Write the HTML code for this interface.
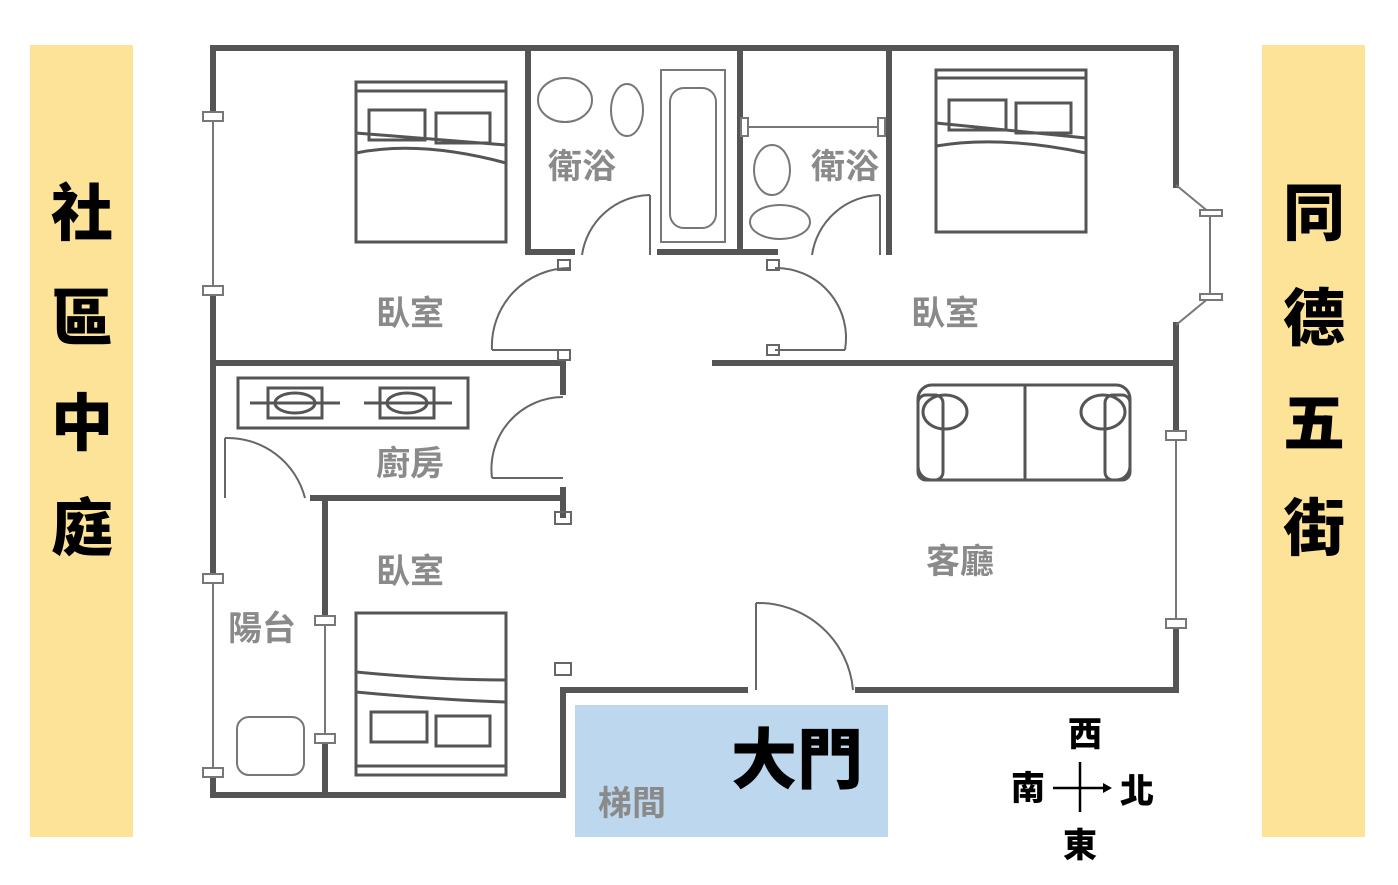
<!DOCTYPE html>
<html><head><meta charset="utf-8"><style>
html,body{margin:0;padding:0;background:#fff;}
svg{display:block}
.lbl{font-family:"Liberation Sans","Noto Sans CJK TC",sans-serif;font-weight:bold;fill:#8a8a8a;font-size:34px;}
.side{font-family:"Liberation Sans","Noto Sans CJK TC",sans-serif;font-weight:900;fill:#000;font-size:62px;}
.cmp{font-family:"Liberation Sans","Noto Sans CJK TC",sans-serif;font-weight:900;fill:#000;font-size:34px;}
</style></head><body>
<svg width="1398" height="885" viewBox="0 0 1398 885" xmlns="http://www.w3.org/2000/svg">
<rect x="30" y="45" width="103" height="792" fill="#fde398"/>
<rect x="1262" y="45" width="103" height="792" fill="#fde398"/>
<text class="side" x="82" y="235" text-anchor="middle">社</text>
<text class="side" x="82" y="340" text-anchor="middle">區</text>
<text class="side" x="82" y="445" text-anchor="middle">中</text>
<text class="side" x="82" y="550" text-anchor="middle">庭</text>
<text class="side" x="1314" y="235" text-anchor="middle">同</text>
<text class="side" x="1314" y="340" text-anchor="middle">德</text>
<text class="side" x="1314" y="445" text-anchor="middle">五</text>
<text class="side" x="1314" y="550" text-anchor="middle">街</text>

<rect x="575" y="705" width="313" height="132" fill="#bdd7ee"/>

<g stroke="#555" stroke-width="6" fill="none" stroke-linecap="square">
<!-- outer -->
<line x1="213" y1="48" x2="1176" y2="48"/>
<line x1="213" y1="48" x2="213" y2="112"/>
<line x1="213" y1="292" x2="213" y2="578"/>
<line x1="213" y1="775" x2="213" y2="795"/>
<line x1="213" y1="795" x2="563" y2="795"/>
<line x1="563" y1="690" x2="563" y2="795"/>
<line x1="563" y1="690" x2="745" y2="690"/>
<line x1="858" y1="690" x2="1176" y2="690"/>
<line x1="1176" y1="48" x2="1176" y2="185"/>
<line x1="1176" y1="325" x2="1176" y2="432"/>
<line x1="1176" y1="628" x2="1176" y2="690"/>
<!-- interior -->
<line x1="528" y1="48" x2="528" y2="252"/>
<line x1="528" y1="252" x2="572" y2="252"/>
<line x1="660" y1="252" x2="740" y2="252"/>
<line x1="740" y1="48" x2="740" y2="252"/>
<line x1="740" y1="252" x2="775" y2="252"/>
<line x1="889" y1="48" x2="889" y2="252"/>
<line x1="213" y1="363" x2="563" y2="363"/>
<line x1="715" y1="363" x2="1176" y2="363"/>
<line x1="563" y1="363" x2="563" y2="392"/>
<line x1="563" y1="490" x2="563" y2="515"/>
<line x1="313" y1="498" x2="563" y2="498"/>
<line x1="325" y1="498" x2="325" y2="620"/>
<line x1="325" y1="740" x2="325" y2="795"/>
</g>
<!-- windows -->
<g stroke="#777" stroke-width="2" fill="#fff">
<line x1="213" y1="112" x2="213" y2="292"/>
<line x1="213" y1="578" x2="213" y2="775"/>
<line x1="325" y1="620" x2="325" y2="740"/>
<line x1="1176" y1="432" x2="1176" y2="628"/>
<rect x="203" y="112" width="20" height="9"/><rect x="203" y="286" width="20" height="9"/>
<rect x="203" y="574" width="20" height="9"/><rect x="203" y="768" width="20" height="9"/>
<rect x="315" y="616" width="20" height="9"/><rect x="315" y="734" width="20" height="9"/>
<rect x="1166" y="431" width="20" height="9"/><rect x="1166" y="619" width="20" height="9"/>
<line x1="1176" y1="185" x2="1210" y2="213"/>
<line x1="1210" y1="213" x2="1210" y2="297"/>
<line x1="1210" y1="297" x2="1176" y2="325"/>
<rect x="1200" y="210" width="22" height="6"/><rect x="1200" y="294" width="22" height="6"/>
<line x1="744" y1="127" x2="884" y2="127"/>
<rect x="741" y="118" width="7" height="18"/><rect x="878" y="118" width="7" height="18"/>
</g>
<!-- doors -->
<g stroke="#666" stroke-width="2" fill="none">
<path d="M570 268 A78 78 0 0 0 492 350"/><line x1="492" y1="350" x2="565" y2="350"/>
<rect x="558" y="260" width="12" height="10"/><rect x="558" y="350" width="12" height="10"/>
<path d="M775 268 A70 70 0 0 1 845 350"/><line x1="775" y1="350" x2="845" y2="350"/>
<rect x="767" y="260" width="12" height="10"/><rect x="767" y="345" width="12" height="10"/>
<path d="M650 195 A70 70 0 0 0 582 255"/><line x1="650" y1="195" x2="650" y2="255"/>
<path d="M880 195 A70 70 0 0 0 812 255"/><line x1="880" y1="195" x2="880" y2="255"/>
<path d="M563 397 A72 72 0 0 0 492 478"/><line x1="492" y1="478" x2="563" y2="478"/>
<rect x="555" y="512" width="16" height="12"/>
<path d="M225 438 A80 80 0 0 1 305 498"/><line x1="225" y1="438" x2="225" y2="498"/>
<rect x="555" y="663" width="16" height="12"/>
<path d="M756 603 A95 95 0 0 1 853 690"/><line x1="756" y1="603" x2="756" y2="690"/>
</g>
<!-- beds -->
<g stroke="#555" stroke-width="3" fill="none">
<rect x="356" y="82" width="150" height="160"/><line x1="356" y1="91" x2="506" y2="91"/>
<rect x="369" y="110" width="56" height="30"/><rect x="436" y="113" width="54" height="30"/>
<path d="M356 133 L506 145"/><path d="M356 153 Q420 140 506 163"/>
<rect x="936" y="70" width="150" height="162"/><line x1="936" y1="78" x2="1086" y2="78"/>
<rect x="949" y="100" width="57" height="30"/><rect x="1016" y="103" width="55" height="30"/>
<path d="M936 123 L1086 138"/><path d="M936 146 Q1000 135 1086 153"/>
<rect x="356" y="613" width="150" height="162"/><line x1="356" y1="766" x2="506" y2="766"/>
<rect x="371" y="712" width="56" height="30"/><rect x="436" y="716" width="54" height="30"/>
<path d="M356 692 Q440 700 506 702"/><path d="M356 672 Q440 680 506 680"/>
<!-- sofa -->
<rect x="918" y="385" width="212" height="95" rx="14"/><line x1="1025" y1="385" x2="1025" y2="480"/>
<rect x="918" y="395" width="25" height="85" rx="8"/><rect x="1105" y="395" width="25" height="85" rx="8"/>
<ellipse cx="945" cy="412" rx="22" ry="17"/><ellipse cx="1103" cy="412" rx="22" ry="17"/>
<!-- stove -->
<rect x="238" y="378" width="230" height="50"/>
<rect x="268" y="388" width="54" height="30"/><ellipse cx="295" cy="403" rx="20" ry="10"/>
<rect x="380" y="388" width="54" height="30"/><ellipse cx="407" cy="403" rx="20" ry="10"/>
<line x1="250" y1="403" x2="340" y2="403"/><line x1="364" y1="403" x2="452" y2="403"/>
</g>
<g stroke="#777" stroke-width="2" fill="none">
<ellipse cx="565" cy="100" rx="27" ry="22"/><ellipse cx="627" cy="110" rx="16" ry="26"/>
<rect x="661" y="70" width="64" height="172"/><rect x="670" y="88" width="46" height="140" rx="14"/>
<ellipse cx="772" cy="170" rx="18" ry="25"/><ellipse cx="780" cy="222" rx="30" ry="17"/>
<rect x="237" y="717" width="67" height="58" rx="12"/>
</g>
<!-- labels -->
<text class="lbl" x="410" y="325" text-anchor="middle">臥室</text>
<text class="lbl" x="945" y="325" text-anchor="middle">臥室</text>
<text class="lbl" x="582" y="178" text-anchor="middle">衛浴</text>
<text class="lbl" x="845" y="178" text-anchor="middle">衛浴</text>
<text class="lbl" x="410" y="475" text-anchor="middle">廚房</text>
<text class="lbl" x="410" y="583" text-anchor="middle">臥室</text>
<text class="lbl" x="262" y="640" text-anchor="middle">陽台</text>
<text class="lbl" x="960" y="573" text-anchor="middle">客廳</text>
<text class="lbl" x="632" y="815" text-anchor="middle">梯間</text>
<text x="797" y="783" text-anchor="middle" style="font-family:'Liberation Sans','Noto Sans CJK TC',sans-serif;font-weight:900;font-size:66px;fill:#000">大門</text>
<text class="cmp" x="1085" y="746" text-anchor="middle">西</text>
<text class="cmp" x="1028" y="800" text-anchor="middle">南</text>
<text class="cmp" x="1137" y="803" text-anchor="middle">北</text>
<text class="cmp" x="1080" y="857" text-anchor="middle">東</text>
<g stroke="#000" stroke-width="2.5"><line x1="1080" y1="762" x2="1080" y2="812"/><line x1="1053" y1="788" x2="1105" y2="788"/></g>
<polygon points="1112,788 1103,783 1103,793" fill="#000"/>
</svg>
</body></html>
